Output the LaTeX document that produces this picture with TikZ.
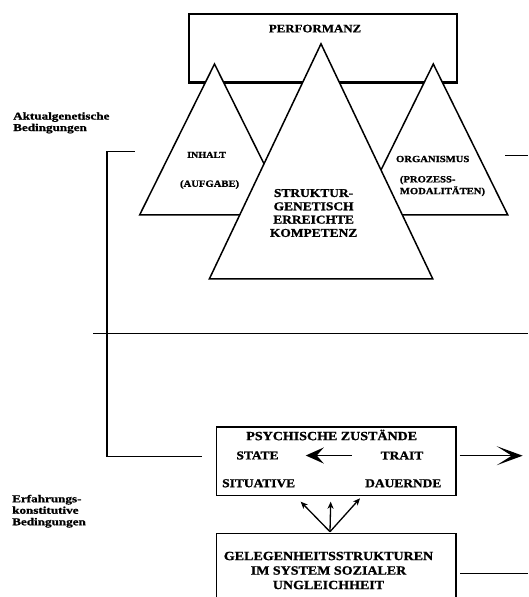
\documentclass[tikz,border=0pt]{standalone}
\usepackage{fontspec}
\usetikzlibrary{arrows.meta}
\newfontfamily\dfont[FakeStretch=1.12,FakeBold=1.2]{Liberation Serif Bold}
\newfontfamily\lfont[FakeStretch=1.25,FakeBold=1.2]{Liberation Serif Bold}

\begin{document}
\begin{tikzpicture}[x=1pt,y=-1pt,
  lbl/.style={inner sep=0pt, align=center, font=\dfont\fontsize{12}{13.3}\selectfont},
  small/.style={inner sep=0pt, align=center, font=\dfont\fontsize{9.5}{11.8}\selectfont},
  side/.style={inner sep=0pt, anchor=west, align=left, font=\lfont\fontsize{10.5}{11.5}\selectfont},
  frame/.style={draw, line width=1.6pt, inner sep=0pt},
  tri/.style={draw, fill=white, line width=1.5pt, line join=miter},
  conn/.style={line width=1.4pt},
  bigarrow/.style={conn, -{Stealth[length=18pt,width=16pt,inset=7pt]}},
  outarrow/.style={conn, -{Stealth[length=26pt,width=19pt,inset=15pt]}},
  fork/.style={line width=1.3pt, -{Stealth[length=7pt,width=6pt,inset=2pt]}}
]
\useasboundingbox (0,0) rectangle (528,597);

% performance frame behind the three pyramids
\node[frame, line width=2.2pt, minimum width=268.4pt, minimum height=68.5pt] (perf) at (322.8,48.3) {};
\node[lbl, font=\dfont\fontsize{11.5}{13}\selectfont] (perftxt) at (315,28.6) {PERFORMANZ};

% side pyramids, then the central one in front
\draw[tri] (214.5,64) -- (139.7,214.8) -- (289.3,214.8) -- cycle;
\draw[tri] (433.3,64) -- (358.9,214.8) -- (507.7,214.8) -- cycle;
\draw[tri] (321,43.8) -- (209.4,278.8) -- (432.7,278.8) -- cycle;

\node[small, font=\dfont\fontsize{9}{11}\selectfont] (inhalt) at (206.6,154.9) {INHALT};
\node[small] (aufgabe) at (209.6,184.5) {(AUFGABE)};
\node[lbl] (kompetenz) at (313.6,213) {STRUKTUR-\\GENETISCH\\ERREICHTE\\KOMPETENZ};
\node[small] (organismus) at (432.7,159) {ORGANISMUS};
\node[small, anchor=west, align=left] (modal) at (399.7,186) {(PROZESS-\\MODALITÄTEN)};

% side captions
\node[side] (aktual) at (13,122.8) {Aktualgenetische\\Bedingungen};
\node[side] (erfahr) at (12,511.2) {Erfahrungs-\\konstitutive\\Bedingungen};

% separating rule between the two levels
\coordinate (ruleL) at (93.3,333.7);
\coordinate (ruleR) at (528,333.7);
\draw[conn] (ruleL) -- (ruleR);

% psychic states
\node[frame, line width=1.6pt, minimum width=239.3pt, minimum height=68.5pt] (psy) at (336.1,461.2) {};
\node[lbl, font=\dfont\fontsize{12.5}{14}\selectfont] (psytxt) at (331.7,435) {PSYCHISCHE ZUSTÄNDE};
\node[lbl] (state) at (257.5,455.5) {STATE};
\node[lbl] (trait) at (402,455.5) {TRAIT};
\node[lbl] (situativ) at (258.7,483.3) {SITUATIVE};
\node[lbl] (dauernd) at (403.3,483.3) {DAUERNDE};
\draw[bigarrow] ([xshift=-29pt]trait.west) -- ([xshift=27pt]state.east);

% outgoing arrow on the right
\coordinate (outR) at (522.7,455.7);
\draw[outarrow] (psy.east |- outR) ++(3pt,0) -- (outR);

% bracket on the left joining the upper level to the psychic states
\coordinate (brTop) at (134.7,151.5);
\coordinate (brBot) at (202,456.6);
\draw[conn] (brTop) -| (107,456.6) -- (brBot);
\coordinate (dashA) at (505,155.6);
\coordinate (dashB) at (528,155.6);
\draw[line width=1.2pt] (dashA) -- (dashB);

% opportunity structures (box runs past the lower edge)
\draw[frame, line width=1.6pt] (216.5,606) |- (456,533.5) -- (456,606);
\coordinate (gel) at (336.2,533.5);
\node[lbl, font=\dfont\fontsize{12.5}{14.5}\selectfont] (geltxt) at (328.5,570.5) {GELEGENHEITSSTRUKTUREN\\IM SYSTEM SOZIALER\\UNGLEICHHEIT};
\coordinate (gelR1) at (460,573.3);
\coordinate (gelR2) at (528,573.3);
\draw[conn] (gelR1) -- (gelR2);

% three arrows fanning up from the opportunity structures
\coordinate (forkO) at (330,531.7);
\coordinate (forkA) at (300.7,501.7);
\coordinate (forkB) at (330.7,501.7);
\coordinate (forkC) at (360,498.3);
\draw[fork] (forkO) -- (forkA);
\draw[fork] (forkO) -- (forkB);
\draw[fork] (forkO) -- (forkC);
\end{tikzpicture}
\end{document}
